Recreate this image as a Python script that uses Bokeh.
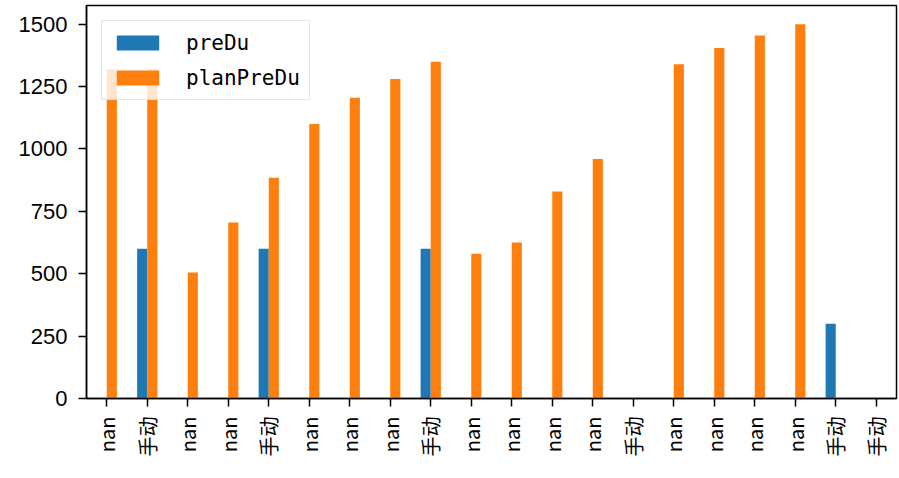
import math
from bokeh.plotting import figure
from bokeh.models import ColumnDataSource, FixedTicker, Range1d
from bokeh.transform import dodge
from bokeh.embed import file_html
from bokeh.resources import INLINE

nan = float("nan")

labels = ["nan", "手动", "nan", "nan", "手动", "nan", "nan", "nan", "手动", "nan",
          "nan", "nan", "nan", "手动", "nan", "nan", "nan", "nan", "手动", "手动"]
preDu = [nan, 600, nan, nan, 600, nan, nan, nan, 600, nan,
         nan, nan, nan, nan, nan, nan, nan, nan, 300, nan]
planPreDu = [1320, 1320, 505, 705, 885, 1100, 1205, 1280, 1350, 580,
             625, 830, 960, nan, 1340, 1405, 1455, 1500, nan, nan]
y_ticks = [0, 250, 500, 750, 1000, 1250, 1500]

x = list(range(len(labels)))
src = ColumnDataSource(dict(x=x, preDu=preDu, planPreDu=planPreDu))

p = figure(width=899, height=478, output_backend="svg", toolbar_location=None,
           x_range=Range1d(-0.5, len(labels) - 0.5), y_range=Range1d(0, 1575),
           min_border_left=86, min_border_right=3, min_border_top=5, min_border_bottom=80)

p.vbar(x=dodge("x", -0.125), top="preDu", width=0.25, source=src,
       fill_color="#1f77b4", line_color=None, legend_label="preDu")
p.vbar(x=dodge("x", 0.125), top="planPreDu", width=0.25, source=src,
       fill_color="#ff7f0e", line_color=None, legend_label="planPreDu")

p.xgrid.visible = False
p.ygrid.visible = False
p.outline_line_color = "black"
p.outline_line_width = 1.5
p.background_fill_color = "white"

for ax in (p.xaxis[0], p.yaxis[0]):
    ax.axis_line_color = "black"
    ax.axis_line_width = 1.5
    ax.major_tick_line_color = "black"
    ax.major_tick_line_width = 1.5
    ax.major_tick_in = 0
    ax.major_tick_out = 8
    ax.minor_tick_line_color = None
    ax.major_label_text_color = "black"

p.yaxis.ticker = FixedTicker(ticks=y_ticks)
p.yaxis.major_label_text_font = "Liberation Sans"
p.yaxis.major_label_text_font_size = "22px"
p.yaxis.major_label_standoff = 11

p.xaxis.ticker = FixedTicker(ticks=x)
p.xaxis.major_label_overrides = {i: lab for i, lab in enumerate(labels)}
p.xaxis.major_label_orientation = math.pi / 2
p.xaxis.major_label_text_font = "Noto Sans CJK SC"
p.xaxis.major_label_text_font_size = "20px"
p.xaxis.major_label_standoff = 10

lg = p.legend[0]
lg.location = "top_left"
lg.margin = 15
lg.padding = 9
lg.spacing = 10
lg.glyph_width = 53
lg.glyph_height = 19
lg.label_standoff = 22
lg.label_text_font = "DejaVu Sans Mono"
lg.label_text_font_size = "21px"
lg.label_text_color = "black"
lg.label_height = 25
lg.border_line_color = "#cccccc"
lg.border_line_width = 1.5
lg.background_fill_alpha = 0.8

open("out.html", "w").write(file_html(p, INLINE))
